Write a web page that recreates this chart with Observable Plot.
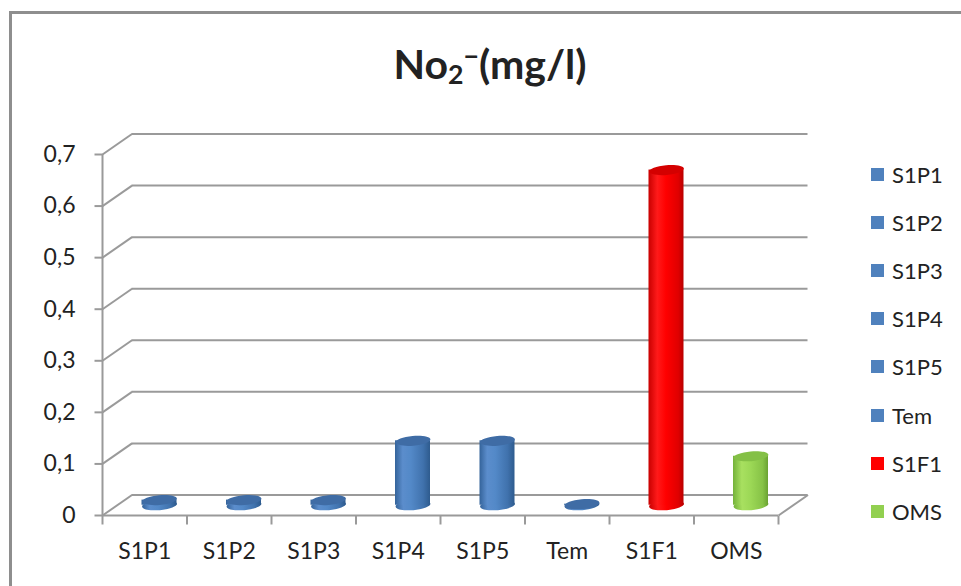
<!DOCTYPE html>
<html><head><meta charset="utf-8">
<script src="https://cdn.jsdelivr.net/npm/d3@7"></script>
<script src="https://cdn.jsdelivr.net/npm/@observablehq/plot@0.6"></script>
<style>
body{margin:0;background:#fff;font-family:Lato,"Open Sans",sans-serif;overflow:hidden;width:961px;height:586px;position:relative;color:#222}
#frame{position:absolute;left:9px;top:11px;width:1000px;height:1000px;border-left:3px solid #8e8e8e;border-top:3px solid #8e8e8e;box-sizing:border-box;pointer-events:none}
#title{height:110px;position:relative}
#title div{position:absolute;left:0;width:980px;text-align:center;top:40px;font-weight:bold;font-size:41px;line-height:48px}
#title sub{font-size:0.65em;vertical-align:-0.2em;line-height:0}
#title sup{font-size:0.65em;vertical-align:0.5em;line-height:0}
.lg{position:absolute;left:871px;height:24px;display:flex;align-items:center;font-size:22px}
.lg i{display:inline-block;width:13px;height:13px;margin-right:8px}
#chart svg{display:block}
</style></head>
<body>
<div id="frame"></div>
<div id="title"><div>No<sub>2</sub><sup>−</sup>(mg/l)</div></div>
<div id="chart"></div>
<div id="legend"></div>
<script>
const categories = ["S1P1","S1P2","S1P3","S1P4","S1P5","Tem","S1F1","OMS"];
const values = [0.01, 0.01, 0.01, 0.125, 0.125, 0.002, 0.65, 0.095];
const colorKeys = ["blue","blue","blue","blue","blue","blue","red","green"];
const yTicks = [0, 0.1, 0.2, 0.3, 0.4, 0.5, 0.6, 0.7];

const legendColors = {blue:"#4f81bd", red:"#ff0000", green:"#92d050"};
const topColors = {blue:"#3f6ca5", red:"#d40000", green:"#84c046"};

const W = 961, H = 476, mL = 102, mR = 183, mT = 44, mB = 71;
const n = categories.length;
const pxX = (W - mL - mR) / n;
const pxY = (H - mT - mB) / 0.7;
const depthX = 29.5 / pxX, depthY = 20.5 / pxY;
const halfW = 17.5 / pxX;
const data = categories.map((c, i) => ({c, i, v: values[i], key: colorKeys[i]}));
const cx = d => d.i + 0.5 + depthX / 2;

const ellipse = {draw(ctx, size) {
  const rx = Math.sqrt(size / Math.PI), ry = rx * 0.28, k = 0.5523;
  ctx.moveTo(rx, 0);
  ctx.bezierCurveTo(rx, ry * k, rx * k, ry, 0, ry);
  ctx.bezierCurveTo(-rx * k, ry, -rx, ry * k, -rx, 0);
  ctx.bezierCurveTo(-rx, -ry * k, -rx * k, -ry, 0, -ry);
  ctx.bezierCurveTo(rx * k, -ry, rx, -ry * k, rx, 0);
  ctx.closePath();
}};

const grid = {stroke: "#9a9a9a", strokeWidth: 2};
const fmt = d => d === 0 ? "0" : d.toFixed(1).replace(".", ",");

const chart = Plot.plot({
  width: W, height: H,
  marginLeft: mL, marginRight: mR, marginTop: mT, marginBottom: mB,
  x: {domain: [0, n], axis: null},
  y: {domain: [0, 0.7], axis: null},
  color: {type: "identity"},
  style: {background: "transparent", overflow: "visible"},
  marks: [
    Plot.ruleY(yTicks, {x1: depthX, x2: n + depthX, y: d => d + depthY, ...grid}),
    Plot.link(yTicks, {x1: 0, y1: d => d, x2: depthX, y2: d => d + depthY, ...grid}),
    Plot.link([0], {x1: n, y1: 0, x2: n + depthX, y2: depthY, ...grid}),
    Plot.ruleY([0], {x1: 0, x2: n, ...grid}),
    Plot.ruleX([0], {y1: 0, y2: 0.7, ...grid}),
    Plot.link(yTicks, {x1: -8 / pxX, x2: 0, y1: d => d, y2: d => d, ...grid}),
    Plot.link(d3.range(n + 1), {x1: d => d, x2: d => d, y1: 0, y2: -9 / pxY, ...grid}),
    Plot.text(yTicks, {x: 0, y: d => d, text: fmt, textAnchor: "end", dx: -27, fontSize: 23, fill: "#222", fontFamily: "Lato"}),
    Plot.text(categories, {x: (d, i) => i + 0.5, y: 0, text: d => d, dy: 36, fontSize: 23, fill: "#222", fontFamily: "Lato"}),
    Plot.dot(data, {x: cx, y: depthY / 2, r: 17.5, symbol: ellipse, fill: d => `url(#g-${d.key})`, stroke: "none", rotate: -5}),
    Plot.rect(data, {x1: d => cx(d) - halfW, x2: d => cx(d) + halfW, y1: depthY / 2, y2: d => depthY / 2 + d.v, fill: d => `url(#g-${d.key})`}),
    Plot.dot(data, {x: cx, y: d => depthY / 2 + d.v, r: 17.5, symbol: ellipse, fill: d => topColors[d.key], stroke: "none", rotate: -5})
  ]
});

const defs = d3.select(chart).insert("defs", ":first-child");
const grads = {
  blue: [["0%","#34639a"],["22%","#5b8dcc"],["45%","#5389c8"],["80%","#4072ad"],["100%","#2e5b8e"]],
  red: [["0%","#c80000"],["25%","#ff1a1a"],["50%","#ff0000"],["85%","#e00000"],["100%","#b80000"]],
  green: [["0%","#74b23a"],["25%","#a8e060"],["50%","#9cd856"],["85%","#86c246"],["100%","#6aa232"]]
};
for (const [k, stops] of Object.entries(grads)) {
  const g = defs.append("linearGradient").attr("id", `g-${k}`).attr("x1", 0).attr("x2", 1).attr("y1", 0).attr("y2", 0);
  for (const [o, c] of stops) g.append("stop").attr("offset", o).attr("stop-color", c);
}
document.getElementById("chart").appendChild(chart);

const legend = document.getElementById("legend");
categories.forEach((c, i) => {
  const row = document.createElement("div");
  row.className = "lg";
  row.style.top = (174 + i * 48.2 - 12) + "px";
  row.innerHTML = `<i style="background:${legendColors[colorKeys[i]]}"></i><span>${c}</span>`;
  legend.appendChild(row);
});
</script>
</body></html>
